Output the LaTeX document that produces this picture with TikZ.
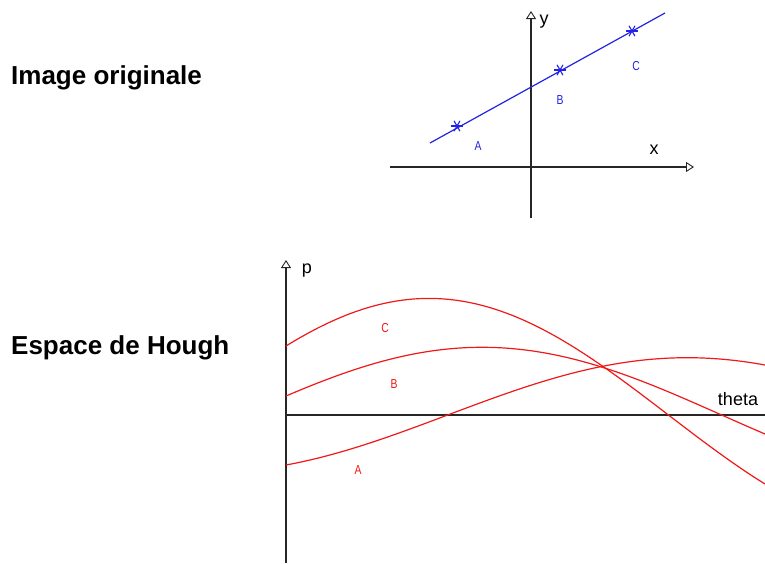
\documentclass[tikz,border=0pt]{standalone}
\usepackage{fontspec}
\setmainfont{Liberation Sans}
\usetikzlibrary{arrows.meta}
\definecolor{lblue}{RGB}{35,35,230}
\definecolor{lred}{RGB}{240,25,25}
\tikzset{
  axis/.style={line width=1.3pt, black!85, -{Triangle[open,length=8pt,width=10pt,line width=0.9pt]}},
  title/.style={anchor=west, inner sep=0pt, font=\fontsize{26}{30}\selectfont\bfseries},
  axlabel/.style={inner sep=0pt, font=\fontsize{18}{21}\selectfont},
  ptlabel/.style={inner sep=0pt, font=\fontsize{13}{15}\selectfont, xscale=0.8},
  curve/.style={lred, line width=1.2pt},
  starmark/.style={lblue, line width=1.1pt}
}
\begin{document}
\begin{tikzpicture}[x=1pt,y=-1pt]
\path[fill=white] (0,0) rectangle (765,563);
\useasboundingbox (0,0) rectangle (765,563);
% titles
\node[title] (t1) at (11,78) {Image originale};
\node[title] (t2) at (11,348) {Espace de Hough};
% --- image space
\coordinate (xs) at (390,167);
\coordinate (xe) at (694,167);
\coordinate (ys) at (531,218);
\coordinate (ye) at (531,11);
\draw[axis] (xs) -- (xe);
\draw[axis] (ys) -- (ye);
\node[axlabel] (ylab) at (544,22) {y};
\node[axlabel] (xlab) at (654,150) {x};
\coordinate (l1) at (430,143);
\coordinate (l2) at (665,13);
\draw[lblue, line width=1.2pt] (l1) -- (l2);
\coordinate (A) at (457,126);
\coordinate (B) at (560,70);
\coordinate (C) at (632,31);
\foreach \p in {A,B,C}{
  \foreach \a in {0,60,120}{
    \draw[starmark] (\p) ++(\a:6) -- ++(\a+180:12);
  }
}
\node[ptlabel, text=lblue] (la) at (478,146) {A};
\node[ptlabel, text=lblue] (lb) at (560,100) {B};
\node[ptlabel, text=lblue] (lc) at (636,66) {C};
% --- Hough space
\coordinate (vs) at (286,563);
\coordinate (ve) at (286,260);
\coordinate (hs) at (286,415);
\coordinate (he) at (765,415);
\draw[line width=1.3pt, black!85] (hs) -- (he);
\draw[axis] (vs) -- (ve);
\node[axlabel] (plab) at (307,271) {p};
\node[axlabel] (tlab) at (738,399) {theta};
\draw[curve] plot[domain=0:180, samples=120, smooth] ({286+\x/180*479}, {415-(-50*cos(\x)+28*sin(\x))});
\draw[curve] plot[domain=0:180, samples=120, smooth] ({286+\x/180*479}, {415-(19*cos(\x)+65*sin(\x))});
\draw[curve] plot[domain=0:180, samples=120, smooth] ({286+\x/180*479}, {415-(69*cos(\x)+94*sin(\x))});
\node[ptlabel, text=lred] (ha) at (358,470) {A};
\node[ptlabel, text=lred] (hb) at (394,384) {B};
\node[ptlabel, text=lred] (hc) at (385,328) {C};
\end{tikzpicture}
\end{document}
